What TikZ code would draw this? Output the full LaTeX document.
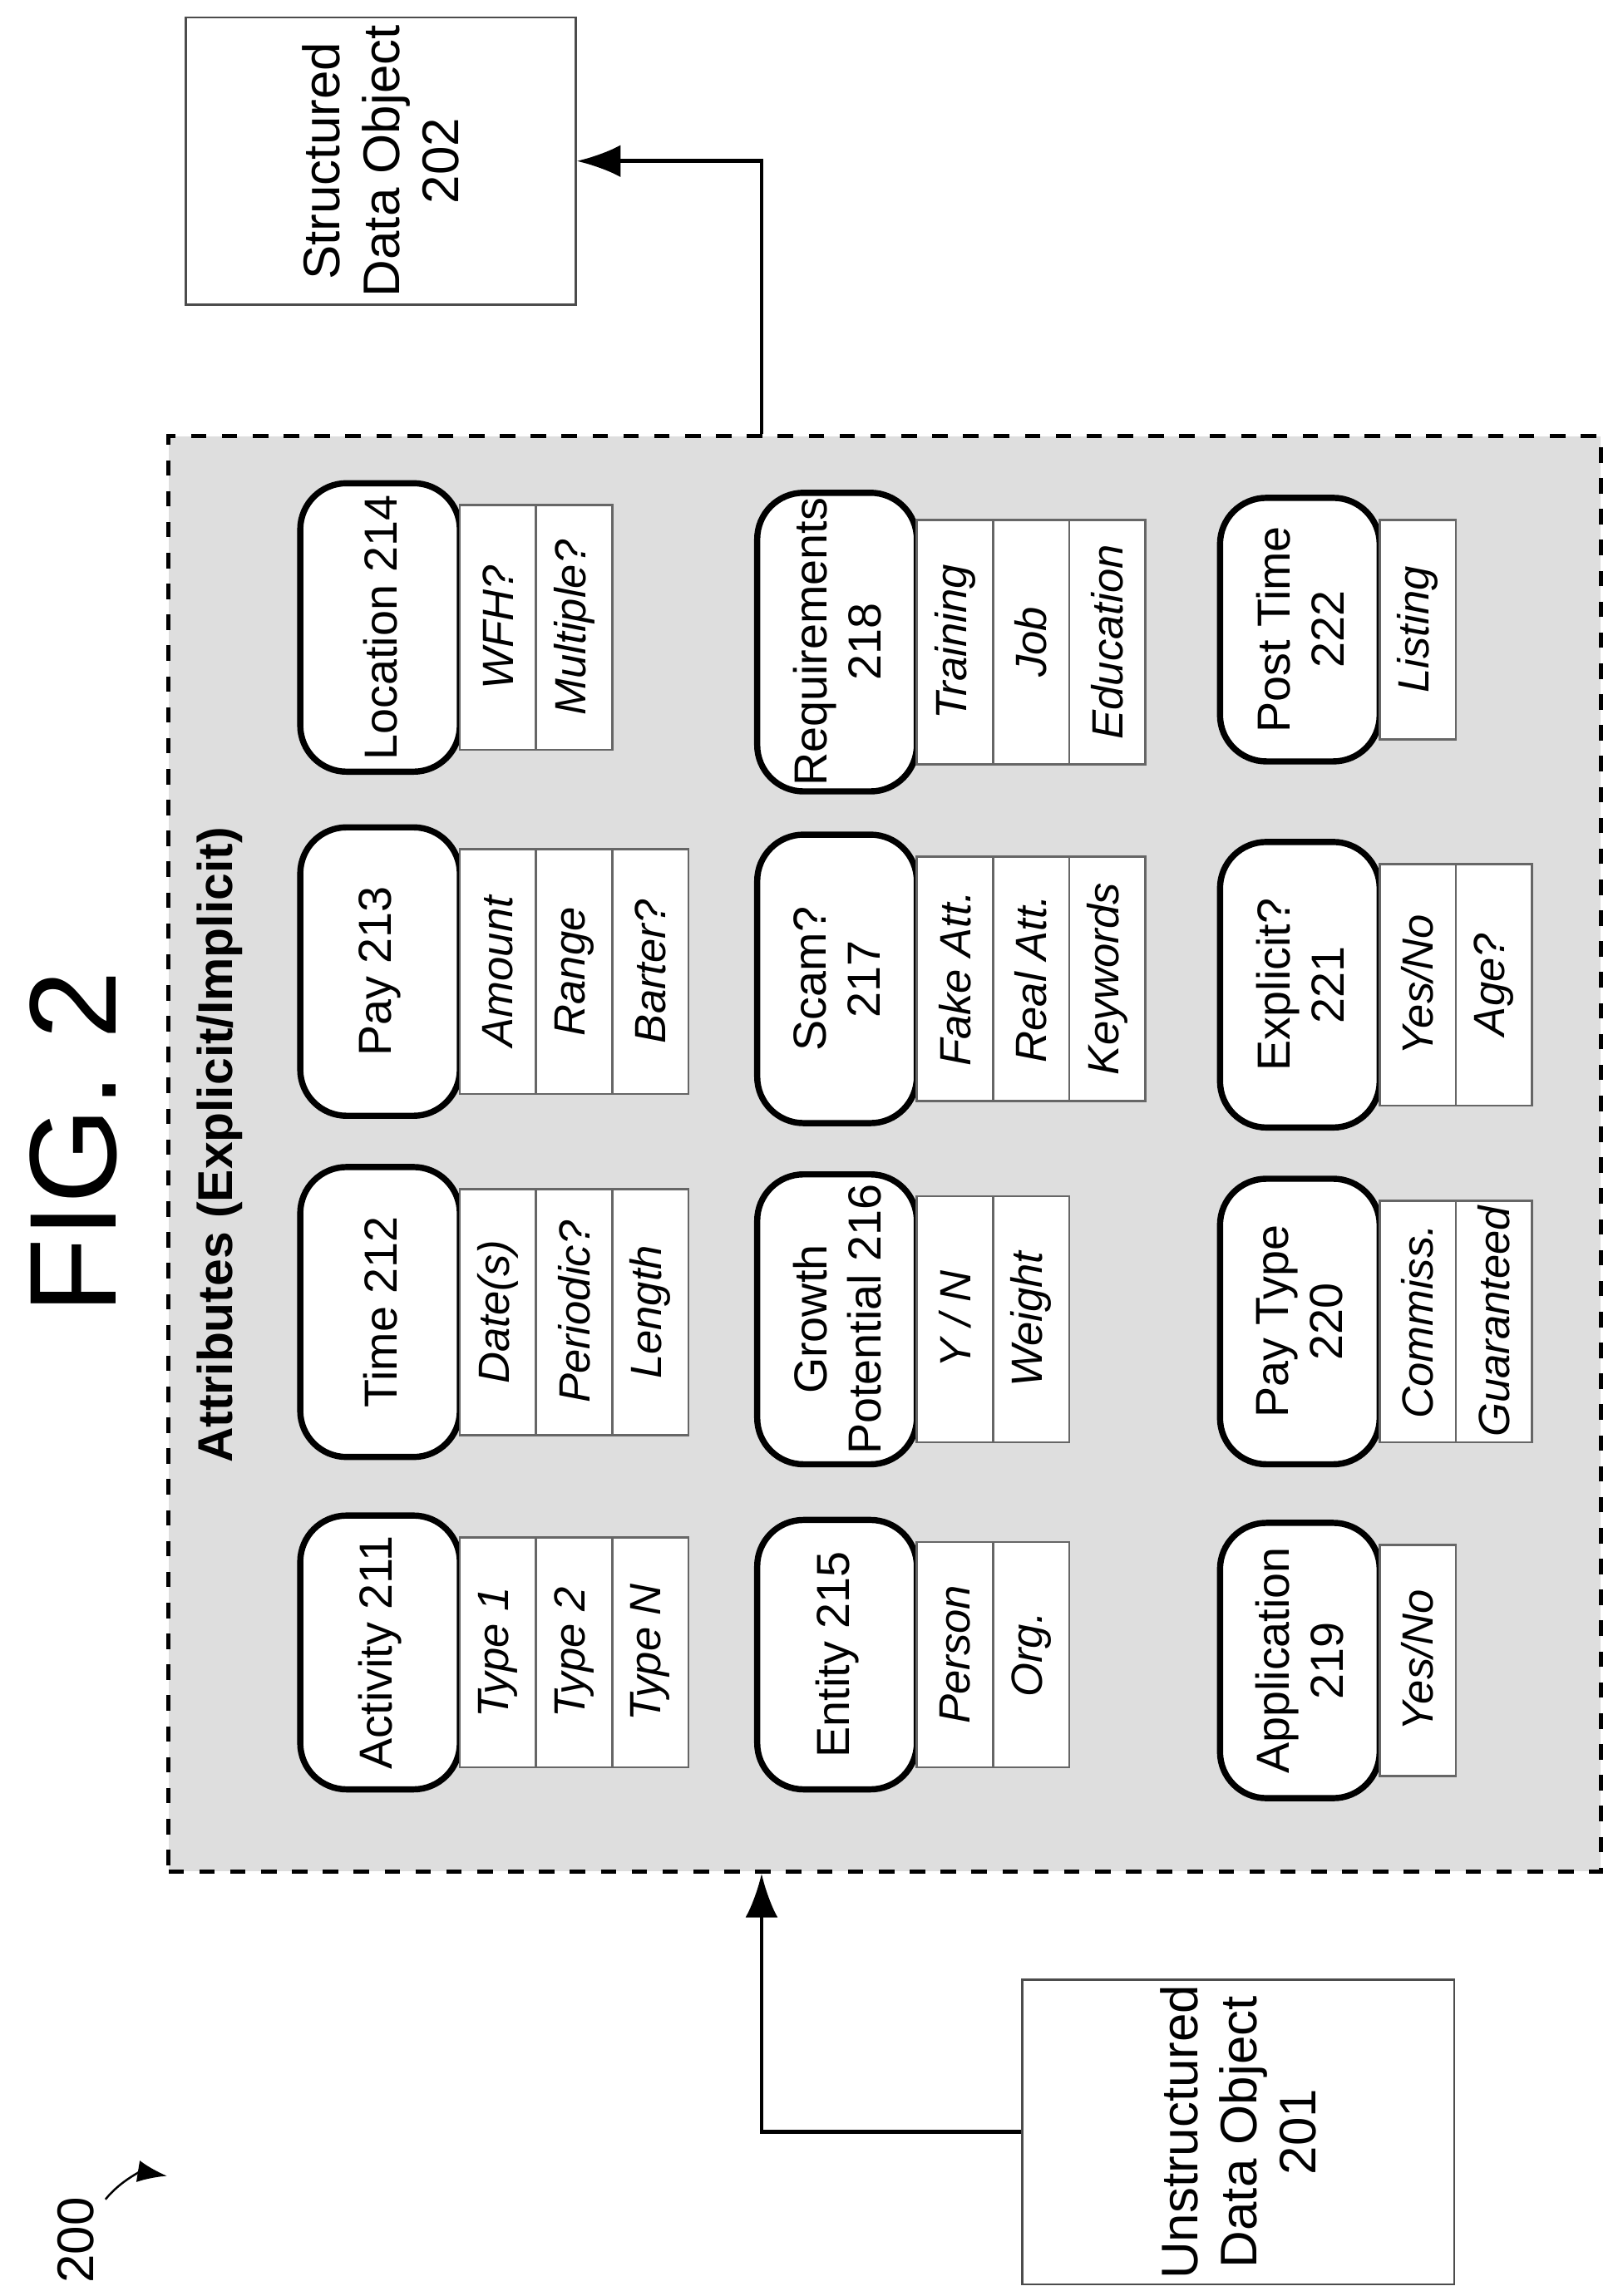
\documentclass[tikz,border=0pt]{standalone}
\usepackage{fontspec}
\setmainfont{Liberation Sans}
\usetikzlibrary{positioning}
\usetikzlibrary{arrows.meta}
\tikzset{
box/.style={draw=black!70, fill=white, rotate=90, align=center, inner sep=1pt, font=\fontsize{10}{11.5}\selectfont},
card/.style={draw, very thick, rounded corners=9pt, fill=white, rotate=90, align=center, inner sep=1pt, font=\fontsize{9}{10.5}\selectfont},
cell/.style={draw=black!60, fill=white, rotate=90, minimum height=0.52cm, inner sep=0pt, font=\fontsize{8.5}{10}\selectfont\itshape},
bigbox/.style={draw, thick, dashed, fill=black!13},
flow/.style={-{Latex[length=3mm,width=2.2mm]}, thick},
}
% name, x left, y top, y bottom, label, cells
\newcommand\attcard[6]{%
  \node[card, minimum width={(#4-#3)*1cm}, minimum height=1.09cm] (#1) at ({#2+0.545}, {-(#3+#4)/2}) {#5};
  \foreach \c [count=\i] in {#6} {
    \node[cell, minimum width={(#4-#3-0.3)*1cm}] (#1c\i) at ({#2+1.09+(\i-0.5)*0.52}, {-(#3+#4)/2}) {\c};
  }%
}
\begin{document}
\begin{tikzpicture}
\useasboundingbox (0,0) rectangle (11.08,-15.68);
%Place the nodes
\node[font=\fontsize{24}{28}\selectfont, rotate=90] (fig) at (0.50,-7.80) {FIG. 2};
\node[font=\fontsize{10}{12}\selectfont, rotate=90] (n200) at (0.52,-15.30) {200};
\draw[-{Latex[length=2mm]}] (0.72,-15.02) to[bend left=30] (1.14,-14.86);

\node[box, minimum width=1.96cm, minimum height=2.66cm] (struct) at (2.60,-1.10) {Structured\\Data Object\\202};
\node[box, minimum width=1.98cm, minimum height=2.95cm] (unstr) at (8.455,-14.56) {Unstructured\\Data Object\\201};

\node[bigbox, minimum width=9.78cm, minimum height=9.80cm] (attr) at (6.04,-7.88) {};
\node[rotate=90, font=\fontsize{9.5}{11}\selectfont\bfseries] (title) at (1.50,-7.82) {Attributes (Explicit/Implicit)};

%row 1
\attcard{act}{2.05}{10.35}{12.22}{Activity 211}{Type 1,Type 2,Type N}
\attcard{time}{2.05}{7.97}{9.95}{Time 212}{Date(s),Periodic?,Length}
\attcard{pay}{2.05}{5.65}{7.62}{Pay 213}{Amount,Range,Barter?}
\attcard{loc}{2.05}{3.30}{5.27}{Location 214}{WFH?,Multiple?}
%row 2
\attcard{ent}{5.17}{10.38}{12.22}{Entity 215}{Person,Org.}
\attcard{grow}{5.17}{8.02}{10.00}{Growth\\Potential 216}{Y / N,Weight}
\attcard{scam}{5.17}{5.70}{7.67}{Scam?\\217}{Fake Att.,Real Att.,Keywords}
\attcard{req}{5.17}{3.40}{5.37}{Requirements\\218}{Training,Job,Education}
%row 3
\attcard{app}{8.33}{10.40}{12.28}{Application\\219}{Yes/No}
\attcard{ptype}{8.33}{8.05}{10.00}{Pay Type\\220}{Commiss.,Guaranteed}
\attcard{expl}{8.33}{5.75}{7.70}{Explicit?\\221}{Yes/No,Age?}
\attcard{post}{8.33}{3.40}{5.20}{Post Time\\222}{Listing}

%connectors
\draw[flow] (unstr.north) -| ([xshift=-0.84cm]attr.south);
\draw[flow] ([xshift=-0.84cm]attr.north) |- (struct.south);
\end{tikzpicture}
\end{document}
